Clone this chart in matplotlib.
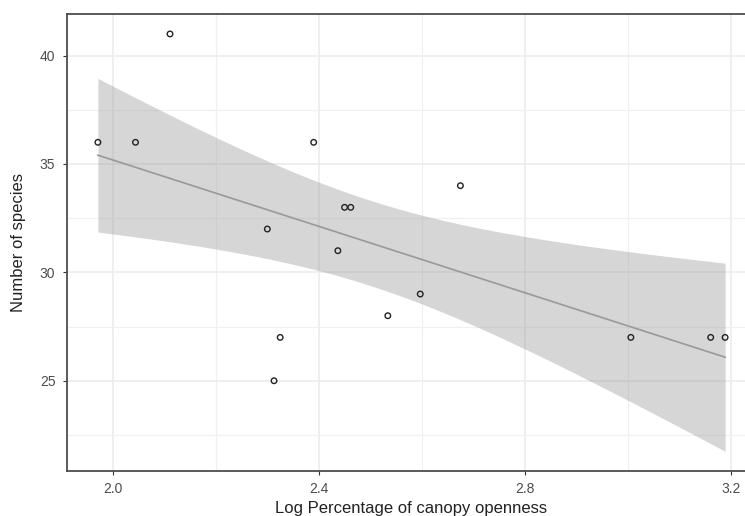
import numpy as np
import matplotlib.pyplot as plt
from matplotlib.ticker import MultipleLocator

plt.rcParams["font.family"] = ["Liberation Sans", "DejaVu Sans"]

# data
log_openness = [1.970, 2.043, 2.110, 2.299, 2.312, 2.324, 2.389, 2.436,
                2.449, 2.461, 2.533, 2.596, 2.674, 3.005, 3.160, 3.188]
n_species = [36, 36, 41, 32, 25, 27, 36, 31, 33, 33, 28, 29, 34, 27, 27, 27]

x = np.array(log_openness)
y = np.array(n_species)

# linear fit with 95% confidence band (like geom_smooth(method="lm"))
slope, intercept = np.polyfit(x, y, 1)
n = len(x)
resid = y - (slope * x + intercept)
s = np.sqrt(np.sum(resid ** 2) / (n - 2))
t_crit = 2.1448  # t(0.975, df=14)
xs = np.linspace(x.min(), x.max(), 80)
ys = slope * xs + intercept
se = s * np.sqrt(1 / n + (xs - x.mean()) ** 2 / np.sum((x - x.mean()) ** 2))

fig = plt.figure(figsize=(7.45, 5.16), dpi=100)
ax = fig.add_axes([66.5 / 745, (516 - 470.7) / 516, (756 - 66.5) / 745, (470.7 - 14) / 516])

ax.set_xlim(1.909, 3.248)
ax.set_ylim(20.85, 41.92)

ax.xaxis.set_major_locator(MultipleLocator(0.4))
ax.xaxis.set_minor_locator(MultipleLocator(0.2))
ax.yaxis.set_major_locator(MultipleLocator(5))
ax.yaxis.set_minor_locator(MultipleLocator(2.5))
ax.grid(which="major", color="#EBEBEB", linewidth=1.1, zorder=0)
ax.grid(which="minor", color="#F0F0F0", linewidth=0.9, zorder=0)
ax.set_axisbelow(True)
ax.tick_params(which="minor", length=0)
ax.tick_params(which="major", length=3, width=0.8, color="#333333",
               labelsize=10, labelcolor="#4D4D4D", pad=5)
ax.xaxis.set_major_formatter(plt.FuncFormatter(lambda v, p: f"{v:.1f}"))

for sp in ax.spines.values():
    sp.set_color("#4D4D4D")
    sp.set_linewidth(1.3)

ax.fill_between(xs, ys - t_crit * se, ys + t_crit * se, color="#999999",
                alpha=0.4, linewidth=0, zorder=2)
ax.plot(xs, ys, color="#999999", linewidth=1.2, zorder=3)
ax.scatter(x, y, s=16, facecolors="none", edgecolors="#222222",
           linewidths=1.0, zorder=4)

ax.set_xlabel("Log Percentage of canopy openness", fontsize=12, color="#222222", labelpad=4)
ax.set_ylabel("Number of species", fontsize=12, color="#222222", labelpad=10)

fig.savefig("out.png", dpi=100, facecolor="white")
plt.close()
